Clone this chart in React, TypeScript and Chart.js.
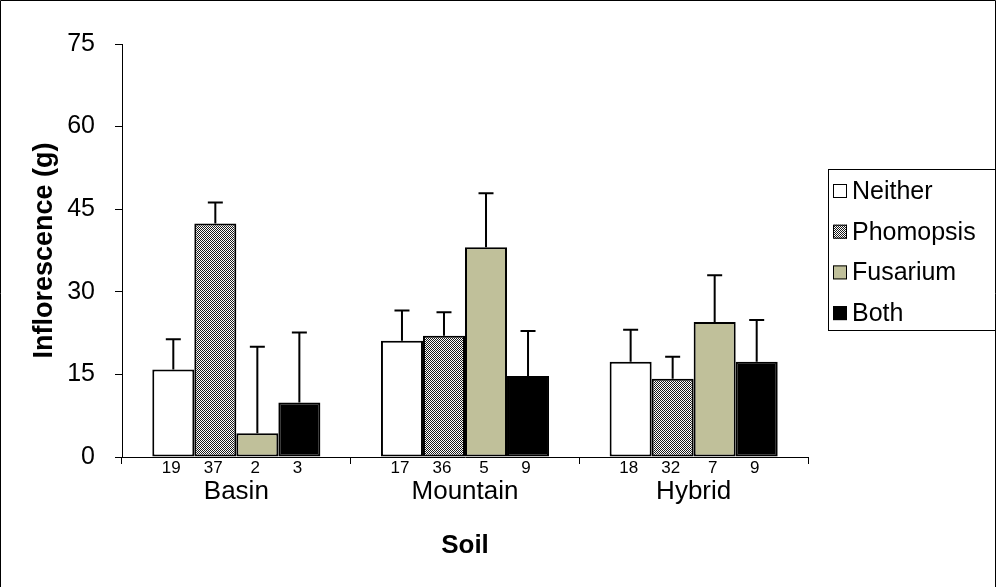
import React, { useEffect, useRef } from "react";
import { Chart, registerables } from "chart.js";

Chart.register(...registerables);

// Soil types on the x axis
const soils = ["Basin", "Mountain", "Hybrid"];

// Mean inflorescence mass (g) per infection group
const neither = [15.9, 21.1, 17.3];
const phomopsis = [42.4, 22.0, 14.2];
const fusarium = [4.3, 38.1, 24.5];
const both = [9.9, 14.7, 17.3];

// Upper error (SE) for each bar
const neitherErr = [5.5, 5.5, 5.8];
const phomopsisErr = [3.8, 4.3, 4.0];
const fusariumErr = [15.7, 9.8, 8.5];
const bothErr = [12.7, 8.2, 7.6];

// Sample sizes printed under the bars
const neitherN = [19, 17, 18];
const phomopsisN = [37, 36, 32];
const fusariumN = [2, 5, 7];
const bothN = [3, 9, 9];

const yTicks = [0, 15, 30, 45, 60, 75];

const FONT = "'Liberation Sans', Arial, Helvetica, sans-serif";

function makeChecker(): CanvasPattern | string {
  const c = document.createElement("canvas");
  c.width = 2;
  c.height = 2;
  const g = c.getContext("2d");
  if (!g) return "#808080";
  g.fillStyle = "#ffffff";
  g.fillRect(0, 0, 2, 2);
  g.fillStyle = "#1a1a1a";
  g.fillRect(0, 0, 1, 1);
  g.fillRect(1, 1, 1, 1);
  const p = g.createPattern(c, "repeat");
  return p || "#808080";
}

export default function App() {
  const ref = useRef<HTMLCanvasElement>(null);

  useEffect(() => {
    const canvas = ref.current;
    if (!canvas) return;
    const checker = makeChecker();

    const series = [
      { label: "Neither", data: neither, err: neitherErr, n: neitherN, fill: "#ffffff" as any },
      { label: "Phomopsis", data: phomopsis, err: phomopsisErr, n: phomopsisN, fill: checker as any },
      { label: "Fusarium", data: fusarium, err: fusariumErr, n: fusariumN, fill: "#c0c09a" as any },
      { label: "Both", data: both, err: bothErr, n: bothN, fill: "#000000" as any },
    ];

    const decorations = {
      id: "decorations",
      afterDatasetsDraw(chart: any) {
        const ctx = chart.ctx as CanvasRenderingContext2D;
        const y = chart.scales.y;
        ctx.save();
        // error bars (upper only) and sample sizes
        series.forEach((s, di) => {
          const meta = chart.getDatasetMeta(di);
          meta.data.forEach((bar: any, i: number) => {
            const top = y.getPixelForValue(s.data[i]);
            const up = y.getPixelForValue(s.data[i] + s.err[i]);
            ctx.strokeStyle = "#000";
            ctx.lineWidth = 2;
            ctx.beginPath();
            ctx.moveTo(bar.x, top);
            ctx.lineTo(bar.x, up);
            ctx.moveTo(bar.x - 7.5, up);
            ctx.lineTo(bar.x + 7.5, up);
            ctx.stroke();

            ctx.fillStyle = "#000";
            ctx.font = `17px ${FONT}`;
            ctx.textAlign = "center";
            ctx.textBaseline = "middle";
            ctx.fillText(String(s.n[i]), bar.x - 2, y.getPixelForValue(0) + 11);
          });
        });

        // legend box
        const lx = 828, ly = 169, lw = 180, lh = 161;
        ctx.fillStyle = "#fff";
        ctx.fillRect(lx, ly, lw, lh);
        ctx.strokeStyle = "#000";
        ctx.lineWidth = 1;
        ctx.strokeRect(lx + 0.5, ly + 0.5, lw, lh);
        series.forEach((s, i) => {
          const cy = 191 + i * 40.7;
          ctx.fillStyle = s.fill;
          ctx.fillRect(833, cy - 7, 14, 14);
          ctx.strokeStyle = "#000";
          ctx.lineWidth = 1;
          ctx.strokeRect(833.5, cy - 6.5, 13, 13);
          ctx.fillStyle = "#000";
          ctx.font = `25px ${FONT}`;
          ctx.textAlign = "left";
          ctx.textBaseline = "middle";
          ctx.fillText(s.label, 852, cy + 1);
        });

        // outer frame
        ctx.strokeStyle = "#000";
        ctx.lineWidth = 1;
        ctx.beginPath();
        ctx.moveTo(0.5, 587);
        ctx.lineTo(0.5, 0.5);
        ctx.lineTo(995.5, 0.5);
        ctx.lineTo(995.5, 587);
        ctx.stroke();
        ctx.restore();
      },
    };

    const chart = new Chart(canvas, {
      type: "bar",
      data: {
        labels: soils,
        datasets: series.map((s) => ({
          label: s.label,
          data: s.data,
          backgroundColor: s.fill,
          borderColor: "#000",
          borderWidth: 2,
          borderSkipped: false as any,
          categoryPercentage: 0.735,
          barPercentage: 1,
        })),
      },
      options: {
        responsive: false,
        animation: false,
        devicePixelRatio: 1,
        layout: { padding: { top: 44, right: 188, left: 0, bottom: 0 } },
        plugins: { legend: { display: false }, tooltip: { enabled: false } },
        scales: {
          x: {
            offset: true,
            grid: {
              offset: true,
              drawOnChartArea: false,
              drawTicks: true,
              tickLength: 7,
              color: "#000",
            },
            border: { display: true, color: "#000", width: 1 },
            ticks: {
              color: "#000",
              font: { family: FONT, size: 26 },
              padding: 12,
            },
            title: {
              display: true,
              text: "Soil",
              color: "#000",
              font: { family: FONT, size: 26, weight: "bold" },
              padding: { top: 0, bottom: 26 },
            },
            afterFit(scale: any) {
              scale.height = 130;
            },
          },
          y: {
            min: 0,
            max: 75,
            afterBuildTicks(scale: any) {
              scale.ticks = yTicks.map((v) => ({ value: v }));
            },
            grid: {
              drawOnChartArea: false,
              drawTicks: true,
              tickLength: 7,
              color: "#000",
            },
            border: { display: true, color: "#000", width: 1 },
            ticks: {
              color: "#000",
              font: { family: FONT, size: 25 },
              padding: 20,
            },
            title: {
              display: true,
              text: "Inflorescence (g)",
              color: "#000",
              font: { family: FONT, size: 27, weight: "bold" },
              padding: { top: 28, bottom: 0 },
            },
            afterFit(scale: any) {
              scale.width = 122;
            },
          },
        },
      },
      plugins: [decorations],
    });

    return () => chart.destroy();
  }, []);

  return (
    <div style={{ position: "fixed", left: 0, top: 0, width: 996, height: 587, background: "#fff" }}>
      <canvas ref={ref} width={996} height={587} style={{ display: "block" }} />
    </div>
  );
}
